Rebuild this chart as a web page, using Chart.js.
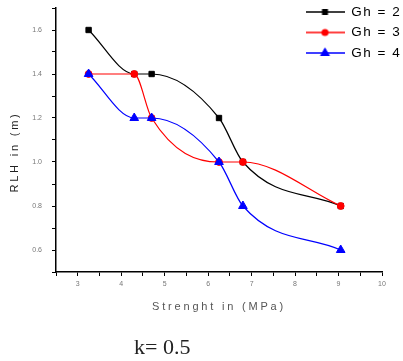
<!DOCTYPE html>
<html>
<head>
<meta charset="utf-8">
<script src="https://cdn.jsdelivr.net/npm/chart.js@4/dist/chart.umd.min.js"></script>
<style>
  body { margin: 0; background: #fff; }
  #wrap { position: relative; width: 403px; height: 361px; }
  #caption { position: absolute; left: 134px; top: 334px; font-family: "Liberation Serif", serif; font-size: 22px; color: #222; }
</style>
</head>
<body>
<div id="wrap">
  <canvas id="chart" width="403" height="361"></canvas>
  <div id="caption">k= 0.5</div>
</div>
<script>
const strength = [3.25, 4.3, 4.7, 6.25, 6.8, 9.05];
const rlhGh2 = [1.6, 1.4, 1.4, 1.2, 1.0, 0.8];
const rlhGh3 = [1.4, 1.4, 1.2, 1.0, 1.0, 0.8];
const rlhGh4 = [1.4, 1.2, 1.2, 1.0, 0.8, 0.6];
const seriesLabels = ['Gh = 2', 'Gh = 3', 'Gh = 4'];
const xTickLabels = [3, 4, 5, 6, 7, 8, 9, 10];
const yTickLabels = [0.6, 0.8, 1.0, 1.2, 1.4, 1.6];

const toPoints = ys => strength.map((x, i) => ({ x: x, y: ys[i] }));

// little line+marker swatch for the legend
const swatch = (color, style, radius) => {
  const c = document.createElement('canvas');
  c.width = 39; c.height = 12;
  const g = c.getContext('2d');
  g.strokeStyle = color; g.fillStyle = color; g.lineWidth = 1.3;
  g.beginPath(); g.moveTo(0, 6); g.lineTo(39, 6); g.stroke();
  Chart.helpers.drawPoint(g, { pointStyle: style, radius: radius, borderWidth: 1 }, 19.5, 6);
  g.fill();
  return c;
};

const series = [
  { label: seriesLabels[0], data: toPoints(rlhGh2), color: '#000000', style: 'rect', radius: 3.8, order: 3 },
  { label: seriesLabels[1], data: toPoints(rlhGh3), color: '#ff0000', style: 'circle', radius: 3.4, order: 2 },
  { label: seriesLabels[2], data: toPoints(rlhGh4), color: '#0000ff', style: 'triangle', radius: 5, order: 1 }
];

// wrap a draw method so its text gets extra letter spacing (and an optional shift)
const spaced = (obj, method, spacing, dy) => {
  if (obj['_sp_' + method]) return;
  const orig = obj[method];
  obj[method] = function () {
    const ctx = this.ctx;
    ctx.save();
    ctx.letterSpacing = spacing;
    if (dy) ctx.translate(0, dy);
    orig.apply(this, arguments);
    ctx.restore();
  };
  obj['_sp_' + method] = true;
};

const moveLegend = {
  id: 'moveLegend',
  afterLayout(chart) {
    const lg = chart.legend;
    lg.left = 298.5;
    lg.top = -1.75;
    lg.right = lg.left + 110;
    lg.bottom = 200;
    spaced(lg, 'draw', '1.5px');
    spaced(chart.scales.x, 'drawTitle', '2.8px');
    spaced(chart.scales.y, 'drawTitle', '2.8px', 12);
  }
};

new Chart(document.getElementById('chart'), {
  type: 'line',
  data: {
    datasets: series.map(s => ({
      label: s.label,
      data: s.data,
      order: s.order,
      borderColor: s.color,
      backgroundColor: s.color,
      borderWidth: 1.2,
      pointStyle: s.style,
      pointRadius: s.radius,
      pointBorderWidth: 1,
      cubicInterpolationMode: 'monotone',
      fill: false
    }))
  },
  options: {
    responsive: false,
    animation: false,
    layout: { padding: { left: 0, top: 8, right: 21, bottom: 44 } },
    plugins: {
      tooltip: { enabled: false },
      legend: {
        position: 'chartArea',
        align: 'start',
        labels: {
          usePointStyle: true,
          pointStyleWidth: 39,
          padding: 7,
          color: '#444',
          font: { family: 'Liberation Sans', size: 13.5 },
          generateLabels: chart => chart.data.datasets.map((d, i) => ({
            text: d.label,
            pointStyle: swatch(series[i].color, series[i].style, series[i].radius - 0.5),
            fillStyle: series[i].color,
            strokeStyle: series[i].color,
            lineWidth: 0,
            datasetIndex: i
          }))
        }
      }
    },
    scales: {
      x: {
        type: 'linear',
        min: 2.5,
        max: 10,
        afterFit: scale => { scale.height = 45; },
        border: { display: true, color: '#000', width: 1.5 },
        grid: { drawOnChartArea: false, drawTicks: true, tickLength: 4, color: '#000' },
        ticks: {
          stepSize: 0.5,
          autoSkip: false,
          maxRotation: 0,
          padding: 4,
          color: '#777',
          font: { family: 'Liberation Sans', size: 7 },
          callback: v => xTickLabels.includes(v) ? String(v) : ''
        },
        title: {
          display: true,
          text: 'Strenght in (MPa)',
          color: '#555',
          font: { family: 'Liberation Sans', size: 11 },
          padding: { top: 0, bottom: 3 }
        }
      },
      y: {
        min: 0.5,
        max: 1.7,
        afterFit: scale => { scale.width = 56; },
        border: { display: true, color: '#000', width: 1.5 },
        grid: { drawOnChartArea: false, drawTicks: true, tickLength: 4, color: '#000' },
        ticks: {
          stepSize: 0.1,
          autoSkip: false,
          padding: 3,
          color: '#777',
          font: { family: 'Liberation Sans', size: 7 },
          callback: v => {
            const r = Math.round(v * 10) / 10;
            // trailing en spaces push the label away from the axis
            return yTickLabels.includes(r) ? r.toFixed(1) + '\u2002\u2002' : '';
          }
        },
        title: {
          display: true,
          text: 'RLH in (m)',
          color: '#222',
          font: { family: 'Liberation Sans', size: 11 },
          padding: { top: 8, bottom: 0 }
        }
      }
    }
  },
  plugins: [moveLegend]
});
</script>
</body>
</html>
